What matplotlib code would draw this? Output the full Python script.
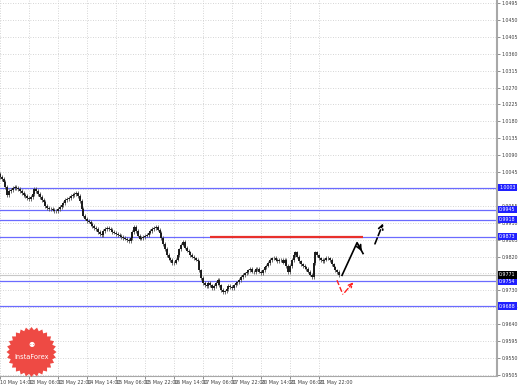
import matplotlib.pyplot as plt
import matplotlib.patches as mpatches
import matplotlib.transforms as mtransforms
import numpy as np

# H1 closes, one per bar
closes = [
    1.0032, 1.0027, 1.0019, 1.0005, 0.9984, 0.9995, 0.9997, 1.0003, 1.0005, 1.0003,
    1.0000, 0.9995, 0.9990, 0.9984, 0.9982, 0.9976, 0.9974, 0.9979, 0.9987, 1.0000,
    0.9995, 0.9987, 0.9979, 0.9971, 0.9966, 0.9955, 0.9950, 0.9947, 0.9947, 0.9945,
    0.9942, 0.9942, 0.9947, 0.9952, 0.9958, 0.9963, 0.9971, 0.9974, 0.9976, 0.9982,
    0.9984, 0.9987, 0.9990, 0.9982, 0.9968, 0.9947, 0.9929, 0.9921, 0.9915, 0.9913,
    0.9907, 0.9902, 0.9897, 0.9894, 0.9886, 0.9881, 0.9878, 0.9889, 0.9894, 0.9897,
    0.9894, 0.9892, 0.9886, 0.9884, 0.9881, 0.9878, 0.9876, 0.9873, 0.9870, 0.9868,
    0.9865, 0.9862, 0.9870, 0.9886, 0.9898, 0.9889, 0.9876, 0.9868, 0.9870, 0.9873,
    0.9876, 0.9878, 0.9884, 0.9889, 0.9894, 0.9897, 0.9898, 0.9892, 0.9884, 0.9870,
    0.9854, 0.9841, 0.9825, 0.9815, 0.9810, 0.9802, 0.9804, 0.9812, 0.9825, 0.9839,
    0.9852, 0.9860, 0.9844, 0.9836, 0.9831, 0.9825, 0.9820, 0.9815, 0.9812, 0.9807,
    0.9783, 0.9762, 0.9749, 0.9743, 0.9741, 0.9749, 0.9743, 0.9735, 0.9741, 0.9749,
    0.9757, 0.9743, 0.9730, 0.9725, 0.9727, 0.9733, 0.9741, 0.9738, 0.9735, 0.9743,
    0.9749, 0.9751, 0.9757, 0.9765, 0.9770, 0.9775, 0.9778, 0.9783, 0.9786, 0.9780,
    0.9778, 0.9788, 0.9786, 0.9780, 0.9775, 0.9783, 0.9791, 0.9796, 0.9802, 0.9810,
    0.9815, 0.9817, 0.9812, 0.9807, 0.9812, 0.9810, 0.9804, 0.9810, 0.9794, 0.9778,
    0.9794, 0.9810, 0.9823, 0.9831, 0.9820, 0.9807, 0.9799, 0.9794, 0.9791, 0.9786,
    0.9780, 0.9772, 0.9765, 0.9802, 0.9831, 0.9823, 0.9815, 0.9810, 0.9807, 0.9812,
    0.9817, 0.9815, 0.9810, 0.9799, 0.9791, 0.9783, 0.9778, 0.9770,
]
first_open = 1.0040
wick = 0.0005  # drawn wick length beyond the body

blue_levels = [1.0003, 0.9945, 0.9918, 0.9873, 0.9754, 0.9688]
red_level = 0.9873
red_span = [116, 200]
bid = 0.9771

# forecast arrows (bar index, price)
black_x = [188.7, 197.0, 200.3]
black_y = [0.9770, 0.9857, 0.9828]
black2_x = [206.3, 211.9]
black2_y = [0.9847, 0.9915]
red1_x = [185.9, 189.2]
red1_y = [0.9757, 0.9719]
red2_x = [189.2, 195.9]
red2_y = [0.9719, 0.9757]

y_ticks = [0.9505, 0.9550, 0.9595, 0.9640, 0.9685, 0.9730, 0.9775, 0.9820, 0.9865,
           0.9910, 0.9955, 1.0000, 1.0045, 1.0090, 1.0135, 1.0180, 1.0225, 1.0270,
           1.0315, 1.0360, 1.0405, 1.0450, 1.0495]
x_ticks = [0, 16, 32, 48, 64, 80, 96, 112, 128, 144, 160, 176]
x_labels = ["10 May 14:00", "13 May 06:00", "13 May 22:00", "14 May 14:00",
            "15 May 06:00", "15 May 22:00", "16 May 14:00", "17 May 06:00",
            "17 May 22:00", "20 May 14:00", "21 May 06:00", "21 May 22:00"]

fig = plt.figure(figsize=(5.18, 3.85), dpi=100)
ax = fig.add_axes([0, 9/385, 497/518, 376/385])
ax.set_xlim(0, 274.2)
ax.set_ylim(0.9502, 1.0503)

# grid
for yt in y_ticks:
    ax.axhline(yt, color="#c8c8c8", lw=0.6, ls=(0, (1, 2)), zorder=0)
for xt in x_ticks:
    ax.axvline(xt, color="#c8c8c8", lw=0.6, ls=(0, (1, 2)), zorder=0)

# levels
for lv in blue_levels:
    ax.axhline(lv, color="#6b6bff", lw=0.9, zorder=1)
ax.axhline(bid, color="#c8c8c8", lw=0.8, zorder=1)
ax.hlines(red_level, red_span[0], red_span[1], color="#e8302c", lw=1.6, zorder=3)

# bars
opens = [first_open] + closes[:-1]
idx = np.arange(len(closes))
lo = np.minimum(opens, closes)
hi = np.maximum(opens, closes)
ax.vlines(idx, lo - wick, hi + wick, color="#555555", lw=0.6, zorder=2)
ax.vlines(idx, lo, hi, color="#1a1a1a", lw=1.4, zorder=2)

# forecast arrows
ax.plot(black_x, black_y, color="black", lw=1.2, zorder=4)
ax.annotate("", xy=(black_x[-1], black_y[-1]), xytext=(black_x[-2], black_y[-2]),
            arrowprops=dict(arrowstyle="->", color="black", lw=1.2, mutation_scale=8))
ax.annotate("", xy=(black2_x[1], black2_y[1]), xytext=(black2_x[0], black2_y[0]),
            arrowprops=dict(arrowstyle="->", color="black", lw=1.2, ls="--", mutation_scale=8))
ax.plot(red1_x, red1_y, color="#ff2020", lw=1.0, ls="--", zorder=4)
ax.annotate("", xy=(red2_x[1], red2_y[1]), xytext=(red2_x[0], red2_y[0]),
            arrowprops=dict(arrowstyle="->", color="#ff2020", lw=1.0, ls="--", mutation_scale=7))

# axes look
for s in ["left", "top"]:
    ax.spines[s].set_visible(False)
ax.spines["right"].set_color("#a8a8a8")
ax.spines["right"].set_linewidth(1.5)
ax.spines["bottom"].set_color("#a8a8a8")
ax.spines["bottom"].set_linewidth(0.8)
ax.yaxis.tick_right()
ax.set_yticks(y_ticks)
ax.set_yticklabels([f"{v:.4f}" for v in y_ticks])
ax.set_xticks(x_ticks)
ax.set_xticklabels(x_labels)
for lbl in ax.get_xticklabels():
    lbl.set_ha("left")
ax.tick_params(axis="y", labelsize=3.4, length=2, width=0.5, pad=1.5,
               colors="#606060", labelcolor="#404040")
ax.tick_params(axis="x", labelsize=3.5, length=2, width=0.5, pad=1,
               colors="#606060", labelcolor="#404040")

# price tags on the right
trans = mtransforms.blended_transform_factory(ax.transAxes, ax.transData)
for lv in blue_levels:
    ax.text(1.004, lv, f"{lv:.4f}", transform=trans, fontsize=3.4, color="white",
            va="center", ha="left", clip_on=False, zorder=6,
            bbox=dict(boxstyle="square,pad=0.25", fc="#2020ff", ec="none"))
ax.text(1.004, bid, f"{bid:.4f}", transform=trans, fontsize=3.4, color="white",
        va="center", ha="left", clip_on=False, zorder=6,
        bbox=dict(boxstyle="square,pad=0.25", fc="black", ec="none"))

# InstaForex badge
n = 56
ang = np.linspace(0, 2*np.pi, n, endpoint=False)
rad = np.where(np.arange(n) % 2 == 0, 25, 22)
cx, cy = 31.5 / 518, 1 - 352 / 385
pts = np.column_stack([cx + rad*np.cos(ang)/518, cy + rad*np.sin(ang)/385])
fig.patches.append(mpatches.Polygon(pts, closed=True, fc="#ee4a44", ec="none",
                                    transform=fig.transFigure, zorder=5))
fig.text(cx, cy - 5/385, "InstaForex", color="white", fontsize=4.8,
         ha="center", va="center", zorder=7)
fig.text(cx, cy + 7/385, "\u2689", color="white", fontsize=5,
         ha="center", va="center", zorder=7)

fig.savefig("out.png", dpi=100)
